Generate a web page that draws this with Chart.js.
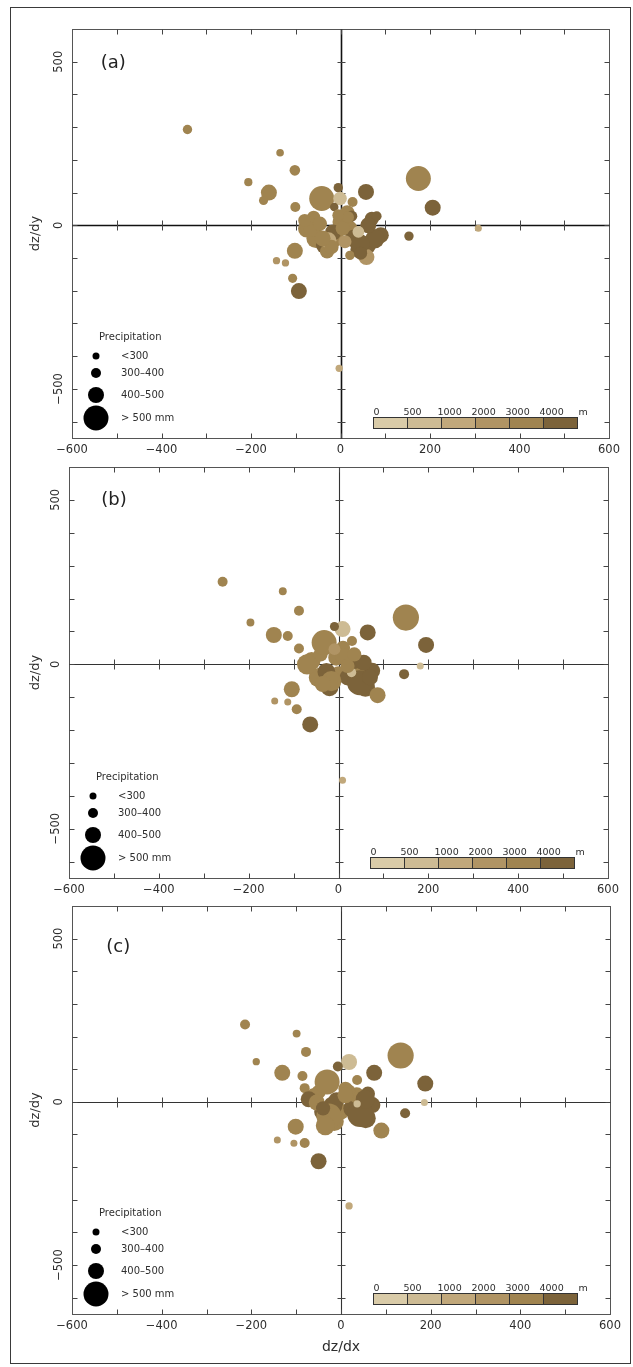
<!DOCTYPE html>
<html><head><meta charset="utf-8">
<script src="https://cdn.jsdelivr.net/npm/chart.js@4/dist/chart.umd.min.js"></script>
<style>
html,body{margin:0;padding:0;background:#fff;}
#wrap{position:relative;width:633px;height:1367px;overflow:hidden;background:#fff;}
#frame{position:absolute;left:10px;top:7px;width:621px;height:1357px;border:1px solid #3a3a3a;box-sizing:border-box;}
.pane{position:absolute;left:0;width:633px;}
.pane canvas{display:block;}
</style></head><body>
<div id="wrap">
<div id="frame"></div>
<div class="pane" style="top:0px;height:460px"><canvas id="ca" width="633" height="460"></canvas></div>
<div class="pane" style="top:460px;height:440px"><canvas id="cb" width="633" height="440"></canvas></div>
<div class="pane" style="top:900px;height:467px"><canvas id="cc" width="633" height="467"></canvas></div>
</div>
<script>
// ---------- data ----------
const xTickValues = [-600, -400, -200, 0, 200, 400, 600];
const yTickValues = [-500, 0, 500];
const xTitle = 'dz/dx';
const yTitle = 'dz/dy';
const panelLabels = ['(a)', '(b)', '(c)'];
const precipTitle = 'Precipitation';
const precipClassLabels = ['<300', '300\u2013400', '400\u2013500', '> 500 mm'];
const precipClassValues = [250, 350, 450, 600];
const elevationClassLabels = ['0', '500', '1000', '2000', '3000', '4000'];
const elevationUnit = 'm';

// panel (a): gradient x, gradient y, precipitation (mm), elevation class index
const aX = [-75, -55, -35, -10, 0, 20, 30, 60, 90, 70, -30, 40, -60, 15,
  -342, -135, -102, -206, -160, -172, -101, -42, -5, -1, 27, 57, 174, 206, -14, 25, 81, -62, -80, -46, -17, -27, -20, 58, 77, 44, 62, 21, 40, 153, -102, -143, -123, -107, -93, 17, -5, 5, -40, 10, 45, 308, -3];
const aY = [-10, -40, -60, -40, 10, -10, -40, -60, -30, 20, -80, -75, 25, 40,
  293, 222, 168, 132, 100, 76, 56, 82, 115, 82, 71, 102, 143, 54, 56, 28, 28, -7, 15, 5, -22, -46, -66, -97, -41, -56, 0, -92, -20, -33, -78, -108, -115, -162, -201, 25, 31, -10, -40, -50, -85, -9, -437];
const aPrecip = [480, 500, 480, 450, 450, 450, 480, 480, 450, 420, 420, 450, 400, 420,
  330, 270, 360, 290, 450, 320, 350, 600, 330, 410, 350, 450, 600, 450, 300, 370, 340, 500, 400, 420, 450, 450, 420, 450, 500, 500, 450, 330, 380, 330, 450, 260, 260, 320, 450, 380, 380, 420, 450, 400, 400, 250, 260];
const aElev = [4, 4, 5, 4, 4, 4, 5, 5, 5, 5, 4, 5, 4, 4,
  4, 4, 4, 4, 4, 4, 4, 4, 5, 1, 4, 5, 4, 5, 5, 5, 5, 4, 4, 4, 5, 2, 4, 3, 5, 5, 5, 4, 1, 5, 4, 3, 3, 4, 5, 4, 4, 4, 4, 3, 5, 2, 2];

// panel (b)
const bX = [-60, -45, -20, 0, 20, 40, 60, 75, -40, 10, 35, -5,
  -258, -124, -88, -196, -144, -113, -88, -32, 9, -9, 65, 30, 150, 195, 146, 182, -70, -27, -16, 10, 56, 47, 87, -104, -142, -113, -93, -63, 9, 29, -9, 35, -35, 70, 20];
const bY = [10, -40, -70, -30, -40, -20, -70, -20, 30, 50, 10, 20,
  251, 222, 163, 127, 89, 86, 48, 66, 107, 115, 97, 71, 142, 59, -30, -5, 0, -23, -51, 25, 5, -56, -94, -76, -112, -115, -137, -183, -353, -25, 46, 30, -60, -40, -5];
const bPrecip = [480, 500, 480, 450, 450, 480, 500, 450, 420, 420, 450, 450,
  350, 280, 350, 280, 450, 350, 350, 600, 450, 320, 450, 350, 620, 450, 350, 250, 520, 480, 520, 450, 450, 600, 450, 450, 250, 250, 350, 450, 250, 330, 380, 420, 450, 450, 420];
const bElev = [4, 4, 5, 4, 5, 4, 5, 5, 4, 4, 5, 4,
  4, 4, 4, 4, 4, 4, 4, 4, 1, 5, 5, 4, 4, 5, 5, 1, 4, 5, 4, 4, 5, 5, 4, 4, 3, 3, 4, 5, 2, 1, 3, 4, 4, 5, 4];

// panel (c)
const cX = [-60, -40, -15, 0, 25, 55, 70, -50, 10, 35, -10, 60,
  -214, -99, -78, -189, -131, -86, -81, -31, 18, -7, 74, 36, 133, 188, 143, 186, -72, -54, -18, -27, 43, 54, 90, -101, -142, -105, -81, -50, 18, 17, 36, -35, 10, -40];
const cY = [15, -30, -60, -30, -20, -50, -10, 30, 40, 20, 5, 25,
  237, 209, 153, 123, 89, 79, 42, 61, 122, 108, 89, 67, 142, 56, -35, -2, 8, -2, -12, -43, -37, 8, -88, -76, -117, -127, -126, -182, -319, 34, -6, -73, 20, -20];
const cPrecip = [480, 480, 500, 450, 480, 520, 450, 420, 420, 450, 450, 420,
  350, 280, 350, 260, 450, 350, 350, 600, 450, 350, 450, 350, 620, 450, 350, 250, 450, 450, 500, 600, 620, 500, 450, 450, 250, 250, 350, 450, 260, 400, 260, 500, 450, 420];
const cElev = [4, 5, 4, 4, 5, 5, 5, 4, 4, 4, 5, 5,
  4, 4, 4, 4, 4, 4, 4, 4, 1, 5, 5, 4, 4, 5, 5, 1, 5, 4, 5, 4, 5, 5, 4, 4, 3, 3, 4, 5, 2, 4, 1, 4, 4, 5];

// ---------- styles ----------
const FONT = '"DejaVu Sans", "Liberation Sans", sans-serif';
const TEXT = '#2e2e2e';
const elevColors = ['#d9cba8', '#cdbb94', '#c1a87b', '#b09464', '#a08450', '#7c633a'];
const precipRadii = [3.5, 5, 8, 12.5];
const MINOR_STEP = 100;

function radiusFor(p) {
  const v = precipClassValues, r = precipRadii;
  if (p <= v[0]) return r[0];
  for (let i = 1; i < v.length; i++) {
    if (p <= v[i]) return r[i - 1] + (r[i] - r[i - 1]) * (p - v[i - 1]) / (v[i] - v[i - 1]);
  }
  return r[r.length - 1] + (p - v[v.length - 1]) * (r[r.length - 1] - r[r.length - 2]) / (v[v.length - 1] - v[v.length - 2]);
}
function fmt(v) { return v < 0 ? '\u2212' + Math.abs(v) : String(v); }

const decor = {
  id: 'decor',
  beforeDatasetsDraw(chart, args, o) {
    const {ctx, chartArea: ca, scales: {x, y}} = chart;
    const L = Math.round(ca.left) + 0.5, R = Math.round(ca.right) + 0.5;
    const T = Math.round(ca.top) + 0.5, B = Math.round(ca.bottom) + 0.5;
    const line = (x1, y1, x2, y2) => { ctx.beginPath(); ctx.moveTo(x1, y1); ctx.lineTo(x2, y2); ctx.stroke(); };
    ctx.save();
    ctx.strokeStyle = '#555'; ctx.lineWidth = 1;
    ctx.strokeRect(L, T, R - L, B - T);
    const x0 = Math.round(x.getPixelForValue(0)) + 0.5;
    const y0 = Math.round(y.getPixelForValue(0)) + 0.5;
    ctx.strokeStyle = o.zeroColor; ctx.lineWidth = o.zeroWidth;
    line(x0, T, x0, B); line(L, y0, R, y0);
    ctx.strokeStyle = '#444'; ctx.lineWidth = 1;
    for (let v = x.min + MINOR_STEP; v < x.max; v += MINOR_STEP) {
      const px = Math.round(x.getPixelForValue(v)) + 0.5;
      line(px, T, px, T + 5);
      line(px, B - 5, px, B);
      if (v !== 0) line(px, y0 - 5, px, y0 + 5);
    }
    for (let v = -600; v <= 600; v += MINOR_STEP) {
      const py = Math.round(y.getPixelForValue(v)) + 0.5;
      if (py <= T + 1 || py >= B - 1) continue;
      line(L, py, L + 5, py);
      line(R - 5, py, R, py);
      if (v !== 0) line(x0 - 4, py, x0 + 4, py);
    }
    ctx.restore();
  },
  afterDatasetsDraw(chart, args, o) {
    const {ctx, chartArea: ca, scales: {x, y}} = chart;
    ctx.save();
    // panel label
    ctx.fillStyle = '#222';
    ctx.font = '18px ' + FONT;
    ctx.textAlign = 'center'; ctx.textBaseline = 'middle';
    ctx.fillText(o.label, x.getPixelForValue(o.labelX), y.getPixelForValue(o.labelY));
    // precipitation legend
    ctx.fillStyle = TEXT;
    ctx.font = '10px ' + FONT;
    ctx.textAlign = 'left';
    ctx.fillText(precipTitle, ca.left + 27, ca.bottom - 101);
    const dys = [-82, -65, -43, -20];
    precipClassValues.forEach((v, i) => {
      const cy = ca.bottom + dys[i];
      ctx.fillStyle = '#000';
      ctx.beginPath(); ctx.arc(ca.left + 24, cy, radiusFor(v), 0, Math.PI * 2); ctx.fill();
      ctx.fillStyle = TEXT;
      ctx.fillText(precipClassLabels[i], ca.left + 49, cy);
    });
    // elevation colour bar
    const bx = Math.round(ca.left + 301) + 0.5, by = Math.round(ca.bottom - 21) + 0.5, bw = 34, bh = 11;
    elevColors.forEach((c, i) => {
      ctx.fillStyle = c; ctx.fillRect(bx + i * bw, by, bw, bh);
    });
    ctx.strokeStyle = '#333'; ctx.lineWidth = 1;
    elevColors.forEach((c, i) => ctx.strokeRect(bx + i * bw, by, bw, bh));
    ctx.fillStyle = TEXT;
    ctx.font = '9.5px ' + FONT;
    ctx.textBaseline = 'alphabetic';
    elevationClassLabels.forEach((t, i) => {
      ctx.fillText(t, i === 0 ? bx : bx + i * bw - 4, by - 3);
    });
    ctx.fillText(elevationUnit, bx + 6 * bw + 1, by - 3);
    ctx.restore();
  }
};

function makeChart(id, xs, ys, ps, es, cfg) {
  const pts = xs.map((v, i) => ({x: v, y: ys[i], r: radiusFor(ps[i])}));
  return new Chart(document.getElementById(id), {
    type: 'bubble',
    data: {datasets: [{
      data: pts,
      backgroundColor: es.map(e => elevColors[e]),
      borderWidth: 0,
      hoverBorderWidth: 0
    }]},
    options: {
      responsive: false,
      animation: false,
      events: [],
      layout: {autoPadding: false, padding: {top: cfg.padTop, right: cfg.padRight, left: 0, bottom: 0}},
      plugins: {
        legend: {display: false},
        tooltip: {enabled: false},
        decor: cfg.decor
      },
      scales: {
        x: {
          type: 'linear', position: 'bottom', min: -600, max: 600,
          afterBuildTicks: s => { s.ticks = xTickValues.map(v => ({value: v})); },
          afterFit: s => { s.height = cfg.xAxisHeight; },
          grid: {display: false, drawTicks: false},
          border: {display: false},
          ticks: {padding: 5, autoSkip: false, maxRotation: 0, color: TEXT,
                  font: {family: FONT, size: 11.5}, callback: v => fmt(v)},
          title: {display: !!cfg.showXTitle, text: xTitle, color: TEXT,
                  font: {family: FONT, size: 14}, padding: {top: 0, bottom: 11}}
        },
        y: {
          type: 'linear', position: 'left', min: -650, max: 600,
          afterBuildTicks: s => { s.ticks = yTickValues.map(v => ({value: v})); },
          afterFit: s => { s.width = cfg.yAxisWidth; },
          grid: {display: false, drawTicks: false},
          border: {display: false},
          ticks: {padding: -3, minRotation: 90, maxRotation: 90, crossAlign: 'center', color: TEXT,
                  font: {family: FONT, size: 11.5}, callback: v => fmt(v)},
          title: {display: true, text: yTitle, color: TEXT,
                  font: {family: FONT, size: 13}, padding: {top: 28, bottom: 0}}
        }
      }
    },
    plugins: [decor]
  });
}

makeChart('ca', aX, aY, aPrecip, aElev, {
  padTop: 29, padRight: 24, yAxisWidth: 72, xAxisHeight: 22,
  decor: {label: panelLabels[0], labelX: -508, labelY: 495, zeroColor: '#111', zeroWidth: 1.6}
});
makeChart('cb', bX, bY, bPrecip, bElev, {
  padTop: 7, padRight: 25, yAxisWidth: 69, xAxisHeight: 22,
  decor: {label: panelLabels[1], labelX: -500, labelY: 499, zeroColor: '#333', zeroWidth: 1.1}
});
makeChart('cc', cX, cY, cPrecip, cElev, {
  padTop: 6, padRight: 23, yAxisWidth: 72, xAxisHeight: 53, showXTitle: true,
  decor: {label: panelLabels[2], labelX: -497, labelY: 474, zeroColor: '#333', zeroWidth: 1.1}
});
</script>
</body></html>
